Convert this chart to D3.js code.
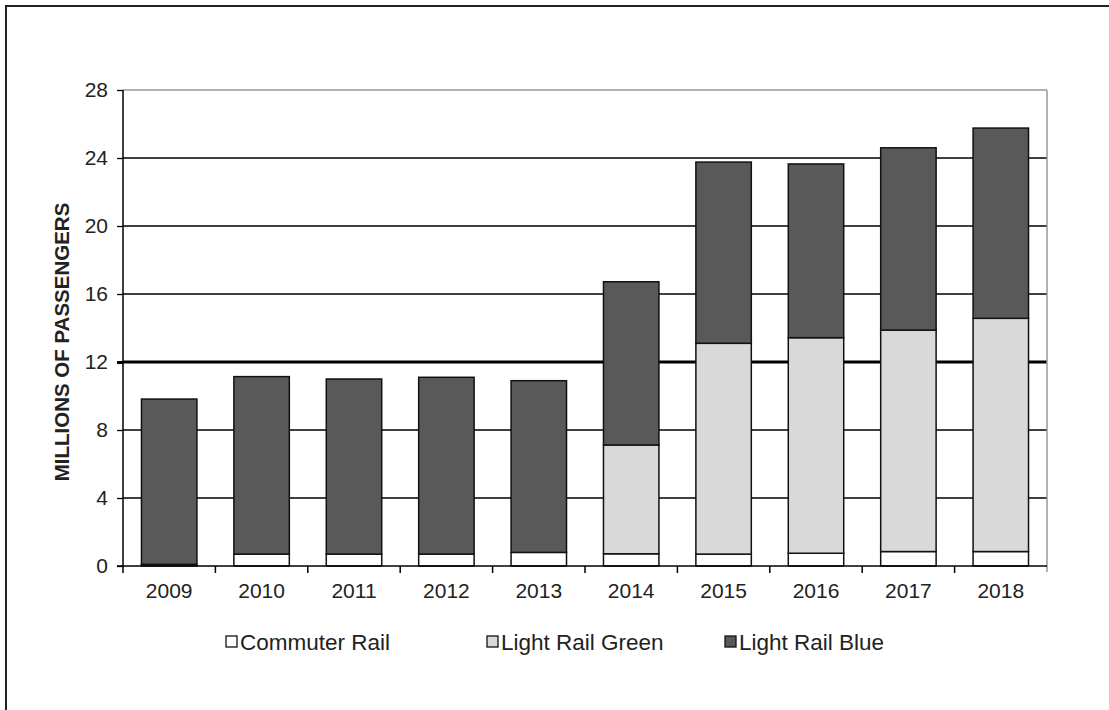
<!DOCTYPE html>
<html><head><meta charset="utf-8">
<script src="https://cdn.jsdelivr.net/npm/d3@7"></script>
<style>html,body{margin:0;padding:0;background:#fff;}svg{display:block;font-family:"Liberation Sans",Arial,sans-serif;}</style>
</head><body>
<script>
const years = ["2009","2010","2011","2012","2013","2014","2015","2016","2017","2018"];
const commuterRail = [0.1, 0.7, 0.7, 0.7, 0.8, 0.72, 0.7, 0.75, 0.85, 0.85];
const lightRailGreen = [0, 0, 0, 0, 0, 6.4, 12.4, 12.68, 13.03, 13.72];
const lightRailBlue = [9.72, 10.44, 10.3, 10.4, 10.1, 9.6, 10.66, 10.22, 10.72, 11.19];
const yTicks = [0, 4, 8, 12, 16, 20, 24, 28];
const seriesNames = ["Commuter Rail", "Light Rail Green", "Light Rail Blue"];
const seriesColors = ["#ffffff", "#d9d9d9", "#595959"];

const W = 1109, H = 710;
const m = {left: 123, right: 1047, top: 90, bottom: 566};
const svg = d3.select("body").append("svg").attr("width", W).attr("height", H);

// outer frame (left + top visible)
svg.append("rect").attr("x", 6).attr("y", 6).attr("width", W + 10).attr("height", H + 10)
  .attr("fill", "#fff").attr("stroke", "#222").attr("stroke-width", 2);

const x = d3.scaleBand().domain(years).range([m.left, m.right]).paddingInner(0.4).paddingOuter(0.2);
const y = d3.scaleLinear().domain([0, 28]).range([m.bottom, m.top]);

// gridlines
svg.append("g").selectAll("line").data(yTicks.filter(t => t > 0))
  .join("line")
  .attr("x1", m.left).attr("x2", m.right)
  .attr("y1", d => y(d)).attr("y2", d => y(d))
  .attr("stroke", d => d === 28 ? "#999" : "#000")
  .attr("stroke-width", d => d === 12 ? 3 : (d === 28 ? 1.5 : 1.3));

// right border
svg.append("line").attr("x1", m.right).attr("x2", m.right).attr("y1", m.top).attr("y2", m.bottom + 6)
  .attr("stroke", "#999").attr("stroke-width", 1.5);

// stacked data
const table = years.map((yr, i) => ({year: yr, c: commuterRail[i], g: lightRailGreen[i], b: lightRailBlue[i]}));
const stack = d3.stack().keys(["c", "g", "b"])(table);

svg.append("g").selectAll("g").data(stack).join("g")
  .attr("fill", (d, i) => seriesColors[i])
  .selectAll("rect").data(d => d.filter(p => p[1] - p[0] > 0))
  .join("rect")
  .attr("x", d => x(d.data.year))
  .attr("width", x.bandwidth())
  .attr("y", d => y(d[1]))
  .attr("height", d => y(d[0]) - y(d[1]))
  .attr("stroke", "#111").attr("stroke-width", 1.5);

// y axis
const yAxis = d3.axisLeft(y).tickValues(yTicks).tickSize(6).tickPadding(9);
const gy = svg.append("g").attr("transform", `translate(${m.left},0)`).call(yAxis);
gy.select(".domain").attr("stroke", "#000").attr("stroke-width", 1.5).attr("d", `M-0,${m.top}V${m.bottom}`);
gy.selectAll(".tick line").attr("stroke", "#000").attr("stroke-width", d => d === 12 ? 3 : 1.3);
gy.selectAll(".tick text").attr("font-size", 21).attr("fill", "#222").attr("font-family", "Liberation Sans, Arial, sans-serif");

// x axis
const gx = svg.append("g").attr("transform", `translate(0,${m.bottom})`);
gx.append("line").attr("x1", m.left - 6).attr("x2", m.right).attr("y1", 0).attr("y2", 0).attr("stroke", "#000").attr("stroke-width", 1.5);
const boundaries = [m.left].concat(years.map(d => x(d) + x.bandwidth() + x.step() * x.paddingInner() / 2).slice(0, -1));
gx.selectAll("line.tk").data(boundaries).join("line").attr("class", "tk")
  .attr("x1", d => d).attr("x2", d => d).attr("y1", 0).attr("y2", 7)
  .attr("stroke", "#000").attr("stroke-width", 1.5);
gx.selectAll("text").data(years).join("text")
  .attr("x", d => x(d) + x.bandwidth() / 2).attr("y", 32)
  .attr("text-anchor", "middle").attr("font-size", 21).attr("fill", "#222")
  .text(d => d);

// y label
svg.append("text")
  .attr("transform", `translate(69,${(m.top + m.bottom) / 2 + 14}) rotate(-90)`)
  .attr("text-anchor", "middle").attr("font-size", 20.5).attr("font-weight", "bold").attr("fill", "#222")
  .text("MILLIONS OF PASSENGERS");

// legend
const legendX = [226, 487, 725];
const lg = svg.append("g").selectAll("g").data(seriesNames).join("g")
  .attr("transform", (d, i) => `translate(${legendX[i]},642)`);
lg.append("rect").attr("x", 0).attr("y", -6).attr("width", 11).attr("height", 11)
  .attr("fill", (d, i) => seriesColors[i]).attr("stroke", "#111").attr("stroke-width", 1.3);
lg.append("text").attr("x", 14).attr("y", 8).attr("font-size", 22.5).attr("fill", "#222").text(d => d);
</script>
</body></html>
